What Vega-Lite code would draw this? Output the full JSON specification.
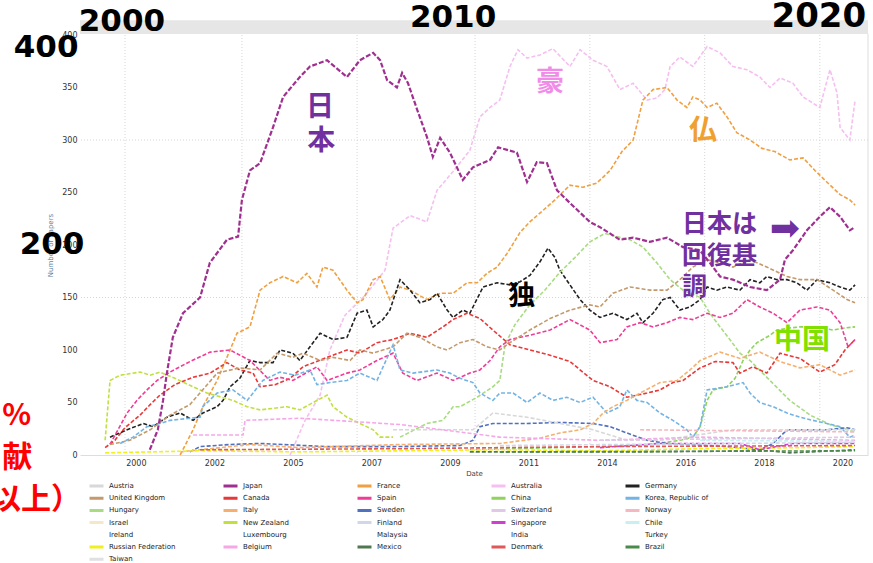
{
 "$schema": "https://vega.github.io/schema/vega-lite/v6.json",
 "width": 788, "height": 420,
 "autosize": {"type": "none"},
 "padding": {"left": 80, "top": 35, "right": 5, "bottom": 108},
 "background": "white",
 "config": {"font": "DejaVu Sans", "view": {"stroke": null}},
 "datasets": {
  "lines": [
   {"c":"Japan","year":2000.9,"value":5},{"c":"Japan","year":2001.13,"value":24},{"c":"Japan","year":2001.28,"value":52},{"c":"Japan","year":2001.39,"value":78},{"c":"Japan","year":2001.56,"value":112},{"c":"Japan","year":2001.85,"value":135},{"c":"Japan","year":2002.34,"value":150},{"c":"Japan","year":2002.62,"value":183},{"c":"Japan","year":2003.11,"value":205},{"c":"Japan","year":2003.43,"value":208},{"c":"Japan","year":2003.54,"value":243},{"c":"Japan","year":2003.77,"value":271},{"c":"Japan","year":2004.06,"value":278},{"c":"Japan","year":2004.43,"value":312},{"c":"Japan","year":2004.72,"value":341},{"c":"Japan","year":2005.2,"value":360},{"c":"Japan","year":2005.49,"value":370},{"c":"Japan","year":2005.98,"value":376},{"c":"Japan","year":2006.55,"value":360},{"c":"Japan","year":2006.92,"value":376},{"c":"Japan","year":2007.3,"value":383},{"c":"Japan","year":2007.5,"value":376},{"c":"Japan","year":2007.7,"value":357},{"c":"Japan","year":2007.98,"value":350},{"c":"Japan","year":2008.13,"value":364},{"c":"Japan","year":2008.3,"value":354},{"c":"Japan","year":2008.56,"value":329},{"c":"Japan","year":2008.84,"value":303},{"c":"Japan","year":2009.01,"value":284},{"c":"Japan","year":2009.22,"value":302},{"c":"Japan","year":2009.5,"value":288},{"c":"Japan","year":2009.87,"value":262},{"c":"Japan","year":2010.16,"value":274},{"c":"Japan","year":2010.65,"value":281},{"c":"Japan","year":2010.88,"value":293},{"c":"Japan","year":2011.42,"value":288},{"c":"Japan","year":2011.71,"value":260},{"c":"Japan","year":2011.99,"value":279},{"c":"Japan","year":2012.28,"value":278},{"c":"Japan","year":2012.57,"value":252},{"c":"Japan","year":2012.94,"value":240},{"c":"Japan","year":2013.51,"value":222},{"c":"Japan","year":2013.8,"value":217},{"c":"Japan","year":2014.37,"value":205},{"c":"Japan","year":2014.75,"value":207},{"c":"Japan","year":2015.23,"value":203},{"c":"Japan","year":2015.72,"value":207},{"c":"Japan","year":2016.18,"value":198},{"c":"Japan","year":2016.66,"value":195},{"c":"Japan","year":2016.95,"value":183},{"c":"Japan","year":2017.24,"value":170},{"c":"Japan","year":2017.61,"value":167},{"c":"Japan","year":2018.1,"value":160},{"c":"Japan","year":2018.58,"value":157},{"c":"Japan","year":2018.96,"value":167},{"c":"Japan","year":2019.1,"value":186},{"c":"Japan","year":2019.33,"value":195},{"c":"Japan","year":2019.73,"value":214},{"c":"Japan","year":2020.1,"value":227},{"c":"Japan","year":2020.39,"value":236},{"c":"Japan","year":2020.68,"value":227},{"c":"Japan","year":2020.96,"value":214},{"c":"Japan","year":2021.1,"value":217},

   {"c":"Australia","year":2004.92,"value":0},{"c":"Australia","year":2005.35,"value":33},{"c":"Australia","year":2005.78,"value":57},{"c":"Australia","year":2006.06,"value":100},{"c":"Australia","year":2006.49,"value":133},{"c":"Australia","year":2007.07,"value":152},{"c":"Australia","year":2007.64,"value":176},{"c":"Australia","year":2007.87,"value":216},{"c":"Australia","year":2008.36,"value":228},{"c":"Australia","year":2008.84,"value":222},{"c":"Australia","year":2009.13,"value":252},{"c":"Australia","year":2009.59,"value":270},{"c":"Australia","year":2010.07,"value":290},{"c":"Australia","year":2010.36,"value":322},{"c":"Australia","year":2010.65,"value":331},{"c":"Australia","year":2010.93,"value":338},{"c":"Australia","year":2011.22,"value":370},{"c":"Australia","year":2011.45,"value":386},{"c":"Australia","year":2011.71,"value":378},{"c":"Australia","year":2012.08,"value":381},{"c":"Australia","year":2012.45,"value":387},{"c":"Australia","year":2012.94,"value":370},{"c":"Australia","year":2013.23,"value":386},{"c":"Australia","year":2013.6,"value":376},{"c":"Australia","year":2014.0,"value":370},{"c":"Australia","year":2014.37,"value":348},{"c":"Australia","year":2014.75,"value":354},{"c":"Australia","year":2015.15,"value":338},{"c":"Australia","year":2015.43,"value":340},{"c":"Australia","year":2015.66,"value":348},{"c":"Australia","year":2015.81,"value":370},{"c":"Australia","year":2016.09,"value":379},{"c":"Australia","year":2016.46,"value":370},{"c":"Australia","year":2016.87,"value":389},{"c":"Australia","year":2017.24,"value":383},{"c":"Australia","year":2017.61,"value":370},{"c":"Australia","year":2018.01,"value":367},{"c":"Australia","year":2018.38,"value":360},{"c":"Australia","year":2018.67,"value":350},{"c":"Australia","year":2018.96,"value":359},{"c":"Australia","year":2019.33,"value":354},{"c":"Australia","year":2019.62,"value":341},{"c":"Australia","year":2020.1,"value":331},{"c":"Australia","year":2020.39,"value":367},{"c":"Australia","year":2020.59,"value":345},{"c":"Australia","year":2020.68,"value":312},{"c":"Australia","year":2020.96,"value":300},{"c":"Australia","year":2021.11,"value":338},

   {"c":"France","year":2001.77,"value":0},{"c":"France","year":2002.14,"value":24},{"c":"France","year":2002.42,"value":46},{"c":"France","year":2002.83,"value":71},{"c":"France","year":2003.11,"value":93},{"c":"France","year":2003.4,"value":116},{"c":"France","year":2003.77,"value":122},{"c":"France","year":2004.06,"value":157},{"c":"France","year":2004.34,"value":164},{"c":"France","year":2004.72,"value":170},{"c":"France","year":2005.12,"value":164},{"c":"France","year":2005.4,"value":173},{"c":"France","year":2005.69,"value":160},{"c":"France","year":2005.86,"value":179},{"c":"France","year":2006.15,"value":176},{"c":"France","year":2006.55,"value":157},{"c":"France","year":2006.84,"value":145},{"c":"France","year":2007.01,"value":148},{"c":"France","year":2007.3,"value":167},{"c":"France","year":2007.5,"value":170},{"c":"France","year":2007.78,"value":148},{"c":"France","year":2008.07,"value":160},{"c":"France","year":2008.36,"value":157},{"c":"France","year":2008.84,"value":148},{"c":"France","year":2009.22,"value":154},{"c":"France","year":2009.59,"value":154},{"c":"France","year":2009.99,"value":164},{"c":"France","year":2010.28,"value":164},{"c":"France","year":2010.56,"value":173},{"c":"France","year":2010.85,"value":179},{"c":"France","year":2011.14,"value":192},{"c":"France","year":2011.51,"value":212},{"c":"France","year":2011.79,"value":222},{"c":"France","year":2012.17,"value":233},{"c":"France","year":2012.51,"value":243},{"c":"France","year":2012.94,"value":257},{"c":"France","year":2013.31,"value":255},{"c":"France","year":2013.71,"value":259},{"c":"France","year":2014.09,"value":271},{"c":"France","year":2014.43,"value":289},{"c":"France","year":2014.75,"value":300},{"c":"France","year":2015.03,"value":338},{"c":"France","year":2015.32,"value":348},{"c":"France","year":2015.72,"value":350},{"c":"France","year":2016.01,"value":338},{"c":"France","year":2016.29,"value":331},{"c":"France","year":2016.46,"value":341},{"c":"France","year":2016.67,"value":338},{"c":"France","year":2016.87,"value":331},{"c":"France","year":2017.15,"value":335},{"c":"France","year":2017.44,"value":322},{"c":"France","year":2017.72,"value":307},{"c":"France","year":2018.1,"value":300},{"c":"France","year":2018.44,"value":292},{"c":"France","year":2018.81,"value":289},{"c":"France","year":2019.24,"value":281},{"c":"France","year":2019.62,"value":283},{"c":"France","year":2019.96,"value":271},{"c":"France","year":2020.3,"value":260},{"c":"France","year":2020.68,"value":248},{"c":"France","year":2020.96,"value":243},{"c":"France","year":2021.11,"value":238},

   {"c":"Germany","year":1999.76,"value":17},{"c":"Germany","year":2000.25,"value":24},{"c":"Germany","year":2000.71,"value":30},{"c":"Germany","year":2000.99,"value":27},{"c":"Germany","year":2001.39,"value":36},{"c":"Germany","year":2001.77,"value":40},{"c":"Germany","year":2002.14,"value":33},{"c":"Germany","year":2002.42,"value":40},{"c":"Germany","year":2002.83,"value":46},{"c":"Germany","year":2003.0,"value":52},{"c":"Germany","year":2003.2,"value":65},{"c":"Germany","year":2003.48,"value":73},{"c":"Germany","year":2003.77,"value":90},{"c":"Germany","year":2004.06,"value":88},{"c":"Germany","year":2004.43,"value":88},{"c":"Germany","year":2004.63,"value":100},{"c":"Germany","year":2005.0,"value":97},{"c":"Germany","year":2005.2,"value":90},{"c":"Germany","year":2005.49,"value":103},{"c":"Germany","year":2005.78,"value":116},{"c":"Germany","year":2006.15,"value":110},{"c":"Germany","year":2006.55,"value":112},{"c":"Germany","year":2006.84,"value":135},{"c":"Germany","year":2007.12,"value":138},{"c":"Germany","year":2007.3,"value":122},{"c":"Germany","year":2007.58,"value":129},{"c":"Germany","year":2007.78,"value":138},{"c":"Germany","year":2008.07,"value":167},{"c":"Germany","year":2008.36,"value":157},{"c":"Germany","year":2008.64,"value":145},{"c":"Germany","year":2008.93,"value":148},{"c":"Germany","year":2009.13,"value":154},{"c":"Germany","year":2009.42,"value":138},{"c":"Germany","year":2009.59,"value":131},{"c":"Germany","year":2009.87,"value":138},{"c":"Germany","year":2010.07,"value":135},{"c":"Germany","year":2010.45,"value":160},{"c":"Germany","year":2010.85,"value":164},{"c":"Germany","year":2011.22,"value":162},{"c":"Germany","year":2011.51,"value":165},{"c":"Germany","year":2011.79,"value":171},{"c":"Germany","year":2012.08,"value":184},{"c":"Germany","year":2012.31,"value":197},{"c":"Germany","year":2012.51,"value":188},{"c":"Germany","year":2012.65,"value":176},{"c":"Germany","year":2012.94,"value":162},{"c":"Germany","year":2013.23,"value":148},{"c":"Germany","year":2013.51,"value":138},{"c":"Germany","year":2013.8,"value":131},{"c":"Germany","year":2014.17,"value":135},{"c":"Germany","year":2014.57,"value":129},{"c":"Germany","year":2014.86,"value":135},{"c":"Germany","year":2015.03,"value":126},{"c":"Germany","year":2015.32,"value":135},{"c":"Germany","year":2015.6,"value":148},{"c":"Germany","year":2015.81,"value":150},{"c":"Germany","year":2016.09,"value":138},{"c":"Germany","year":2016.38,"value":141},{"c":"Germany","year":2016.67,"value":148},{"c":"Germany","year":2016.87,"value":160},{"c":"Germany","year":2017.15,"value":157},{"c":"Germany","year":2017.44,"value":160},{"c":"Germany","year":2017.81,"value":157},{"c":"Germany","year":2018.1,"value":167},{"c":"Germany","year":2018.38,"value":164},{"c":"Germany","year":2018.58,"value":170},{"c":"Germany","year":2018.87,"value":167},{"c":"Germany","year":2019.16,"value":167},{"c":"Germany","year":2019.44,"value":164},{"c":"Germany","year":2019.73,"value":157},{"c":"Germany","year":2020.02,"value":167},{"c":"Germany","year":2020.39,"value":164},{"c":"Germany","year":2020.68,"value":160},{"c":"Germany","year":2020.96,"value":157},{"c":"Germany","year":2021.11,"value":162},

   {"c":"China","year":2010.07,"value":5},{"c":"China","year":2013.8,"value":8},{"c":"China","year":2015.23,"value":10},{"c":"China","year":2016.09,"value":14},{"c":"China","year":2016.46,"value":17},{"c":"China","year":2016.67,"value":27},{"c":"China","year":2016.87,"value":52},{"c":"China","year":2017.04,"value":62},{"c":"China","year":2017.44,"value":65},{"c":"China","year":2017.67,"value":73},{"c":"China","year":2017.9,"value":90},{"c":"China","year":2018.1,"value":100},{"c":"China","year":2018.3,"value":107},{"c":"China","year":2018.67,"value":114},{"c":"China","year":2018.87,"value":119},{"c":"China","year":2019.24,"value":121},{"c":"China","year":2019.53,"value":122},{"c":"China","year":2020.02,"value":122},{"c":"China","year":2020.48,"value":119},{"c":"China","year":2020.82,"value":121},{"c":"China","year":2021.11,"value":122},

   {"c":"Hungary","year":2008.07,"value":17},{"c":"Hungary","year":2008.84,"value":30},{"c":"Hungary","year":2009.3,"value":33},{"c":"Hungary","year":2009.59,"value":46},{"c":"Hungary","year":2009.79,"value":46},{"c":"Hungary","year":2010.28,"value":55},{"c":"Hungary","year":2010.73,"value":65},{"c":"Hungary","year":2010.93,"value":71},{"c":"Hungary","year":2011.08,"value":105},{"c":"Hungary","year":2011.36,"value":124},{"c":"Hungary","year":2011.79,"value":143},{"c":"Hungary","year":2012.22,"value":157},{"c":"Hungary","year":2012.65,"value":174},{"c":"Hungary","year":2013.08,"value":188},{"c":"Hungary","year":2013.51,"value":203},{"c":"Hungary","year":2013.94,"value":211},{"c":"Hungary","year":2014.29,"value":208},{"c":"Hungary","year":2014.66,"value":205},{"c":"Hungary","year":2015.03,"value":198},{"c":"Hungary","year":2015.43,"value":183},{"c":"Hungary","year":2015.81,"value":167},{"c":"Hungary","year":2016.18,"value":157},{"c":"Hungary","year":2016.67,"value":150},{"c":"Hungary","year":2016.95,"value":135},{"c":"Hungary","year":2017.24,"value":122},{"c":"Hungary","year":2017.52,"value":110},{"c":"Hungary","year":2017.81,"value":97},{"c":"Hungary","year":2018.1,"value":90},{"c":"Hungary","year":2018.67,"value":71},{"c":"Hungary","year":2019.24,"value":52},{"c":"Hungary","year":2019.82,"value":38},{"c":"Hungary","year":2020.39,"value":29},{"c":"Hungary","year":2021.11,"value":22},

   {"c":"New Zealand","year":1999.62,"value":14},{"c":"New Zealand","year":1999.76,"value":71},{"c":"New Zealand","year":2000.05,"value":76},{"c":"New Zealand","year":2000.62,"value":79},{"c":"New Zealand","year":2000.91,"value":76},{"c":"New Zealand","year":2001.19,"value":79},{"c":"New Zealand","year":2001.62,"value":73},{"c":"New Zealand","year":2002.14,"value":65},{"c":"New Zealand","year":2002.54,"value":59},{"c":"New Zealand","year":2003.28,"value":52},{"c":"New Zealand","year":2003.69,"value":46},{"c":"New Zealand","year":2004.06,"value":43},{"c":"New Zealand","year":2004.83,"value":46},{"c":"New Zealand","year":2005.2,"value":43},{"c":"New Zealand","year":2005.58,"value":50},{"c":"New Zealand","year":2005.98,"value":57},{"c":"New Zealand","year":2006.15,"value":46},{"c":"New Zealand","year":2006.55,"value":36},{"c":"New Zealand","year":2006.92,"value":30},{"c":"New Zealand","year":2007.3,"value":24},{"c":"New Zealand","year":2007.5,"value":17},{"c":"New Zealand","year":2007.87,"value":17},

   {"c":"Canada","year":1999.62,"value":7},{"c":"Canada","year":1999.9,"value":14},{"c":"Canada","year":2000.19,"value":26},{"c":"Canada","year":2000.62,"value":38},{"c":"Canada","year":2000.91,"value":48},{"c":"Canada","year":2001.19,"value":57},{"c":"Canada","year":2001.62,"value":67},{"c":"Canada","year":2002.14,"value":74},{"c":"Canada","year":2002.63,"value":78},{"c":"Canada","year":2003.11,"value":88},{"c":"Canada","year":2003.48,"value":81},{"c":"Canada","year":2003.86,"value":78},{"c":"Canada","year":2004.06,"value":65},{"c":"Canada","year":2004.49,"value":67},{"c":"Canada","year":2004.92,"value":73},{"c":"Canada","year":2005.29,"value":84},{"c":"Canada","year":2005.98,"value":93},{"c":"Canada","year":2006.55,"value":100},{"c":"Canada","year":2006.92,"value":97},{"c":"Canada","year":2007.41,"value":107},{"c":"Canada","year":2007.87,"value":110},{"c":"Canada","year":2008.36,"value":116},{"c":"Canada","year":2008.84,"value":112},{"c":"Canada","year":2009.3,"value":122},{"c":"Canada","year":2009.59,"value":129},{"c":"Canada","year":2009.99,"value":135},{"c":"Canada","year":2010.36,"value":130},{"c":"Canada","year":2010.73,"value":119},{"c":"Canada","year":2011.22,"value":105},{"c":"Canada","year":2011.79,"value":100},{"c":"Canada","year":2012.37,"value":95},{"c":"Canada","year":2012.94,"value":89},{"c":"Canada","year":2013.6,"value":71},{"c":"Canada","year":2014.09,"value":65},{"c":"Canada","year":2014.57,"value":55},{"c":"Canada","year":2015.15,"value":59},{"c":"Canada","year":2015.52,"value":62},{"c":"Canada","year":2015.89,"value":69},{"c":"Canada","year":2016.18,"value":71},{"c":"Canada","year":2016.67,"value":83},{"c":"Canada","year":2017.1,"value":89},{"c":"Canada","year":2017.61,"value":88},{"c":"Canada","year":2017.81,"value":78},{"c":"Canada","year":2018.18,"value":84},{"c":"Canada","year":2018.58,"value":78},{"c":"Canada","year":2018.96,"value":97},{"c":"Canada","year":2019.53,"value":92},{"c":"Canada","year":2020.1,"value":79},{"c":"Canada","year":2020.53,"value":86},{"c":"Canada","year":2020.82,"value":100},{"c":"Canada","year":2021.11,"value":110},

   {"c":"Spain","year":1999.76,"value":10},{"c":"Spain","year":2000.25,"value":40},{"c":"Spain","year":2000.53,"value":52},{"c":"Spain","year":2000.82,"value":62},{"c":"Spain","year":2001.11,"value":71},{"c":"Spain","year":2001.48,"value":79},{"c":"Spain","year":2002.05,"value":89},{"c":"Spain","year":2002.63,"value":98},{"c":"Spain","year":2003.2,"value":100},{"c":"Spain","year":2003.77,"value":90},{"c":"Spain","year":2004.34,"value":71},{"c":"Spain","year":2004.63,"value":74},{"c":"Spain","year":2005.0,"value":71},{"c":"Spain","year":2005.69,"value":84},{"c":"Spain","year":2005.98,"value":71},{"c":"Spain","year":2006.55,"value":78},{"c":"Spain","year":2006.92,"value":81},{"c":"Spain","year":2007.41,"value":90},{"c":"Spain","year":2007.87,"value":97},{"c":"Spain","year":2008.15,"value":78},{"c":"Spain","year":2008.56,"value":71},{"c":"Spain","year":2009.13,"value":78},{"c":"Spain","year":2009.59,"value":71},{"c":"Spain","year":2010.07,"value":78},{"c":"Spain","year":2010.36,"value":81},{"c":"Spain","year":2010.65,"value":90},{"c":"Spain","year":2010.93,"value":103},{"c":"Spain","year":2011.22,"value":110},{"c":"Spain","year":2011.79,"value":114},{"c":"Spain","year":2012.37,"value":119},{"c":"Spain","year":2012.94,"value":129},{"c":"Spain","year":2013.51,"value":119},{"c":"Spain","year":2013.8,"value":107},{"c":"Spain","year":2014.29,"value":110},{"c":"Spain","year":2014.57,"value":122},{"c":"Spain","year":2014.95,"value":126},{"c":"Spain","year":2015.32,"value":122},{"c":"Spain","year":2015.72,"value":126},{"c":"Spain","year":2016.09,"value":131},{"c":"Spain","year":2016.46,"value":129},{"c":"Spain","year":2016.87,"value":135},{"c":"Spain","year":2017.24,"value":131},{"c":"Spain","year":2017.61,"value":135},{"c":"Spain","year":2018.01,"value":148},{"c":"Spain","year":2018.38,"value":141},{"c":"Spain","year":2018.76,"value":135},{"c":"Spain","year":2019.16,"value":126},{"c":"Spain","year":2019.53,"value":138},{"c":"Spain","year":2020.02,"value":141},{"c":"Spain","year":2020.39,"value":138},{"c":"Spain","year":2020.68,"value":126},{"c":"Spain","year":2020.91,"value":103},{"c":"Spain","year":2021.11,"value":110},

   {"c":"United Kingdom","year":1999.76,"value":10},{"c":"United Kingdom","year":2000.33,"value":14},{"c":"United Kingdom","year":2000.91,"value":24},{"c":"United Kingdom","year":2001.48,"value":38},{"c":"United Kingdom","year":2002.05,"value":48},{"c":"United Kingdom","year":2002.83,"value":78},{"c":"United Kingdom","year":2003.48,"value":83},{"c":"United Kingdom","year":2004.06,"value":81},{"c":"United Kingdom","year":2004.55,"value":97},{"c":"United Kingdom","year":2005.0,"value":93},{"c":"United Kingdom","year":2005.29,"value":97},{"c":"United Kingdom","year":2005.78,"value":90},{"c":"United Kingdom","year":2006.15,"value":93},{"c":"United Kingdom","year":2006.64,"value":90},{"c":"United Kingdom","year":2006.92,"value":100},{"c":"United Kingdom","year":2007.3,"value":97},{"c":"United Kingdom","year":2007.87,"value":103},{"c":"United Kingdom","year":2008.27,"value":116},{"c":"United Kingdom","year":2008.64,"value":112},{"c":"United Kingdom","year":2009.13,"value":103},{"c":"United Kingdom","year":2009.42,"value":100},{"c":"United Kingdom","year":2009.79,"value":107},{"c":"United Kingdom","year":2010.16,"value":110},{"c":"United Kingdom","year":2010.56,"value":103},{"c":"United Kingdom","year":2010.93,"value":100},{"c":"United Kingdom","year":2011.22,"value":107},{"c":"United Kingdom","year":2011.79,"value":119},{"c":"United Kingdom","year":2012.37,"value":130},{"c":"United Kingdom","year":2012.94,"value":138},{"c":"United Kingdom","year":2013.51,"value":143},{"c":"United Kingdom","year":2013.8,"value":141},{"c":"United Kingdom","year":2014.17,"value":154},{"c":"United Kingdom","year":2014.66,"value":160},{"c":"United Kingdom","year":2015.23,"value":157},{"c":"United Kingdom","year":2015.72,"value":157},{"c":"United Kingdom","year":2016.09,"value":167},{"c":"United Kingdom","year":2016.46,"value":179},{"c":"United Kingdom","year":2016.87,"value":186},{"c":"United Kingdom","year":2017.24,"value":183},{"c":"United Kingdom","year":2017.61,"value":179},{"c":"United Kingdom","year":2018.1,"value":186},{"c":"United Kingdom","year":2018.58,"value":179},{"c":"United Kingdom","year":2019.16,"value":170},{"c":"United Kingdom","year":2019.53,"value":167},{"c":"United Kingdom","year":2020.02,"value":167},{"c":"United Kingdom","year":2020.48,"value":157},{"c":"United Kingdom","year":2020.88,"value":148},{"c":"United Kingdom","year":2021.11,"value":145},

   {"c":"Korea, Republic of","year":2000.05,"value":11},{"c":"Korea, Republic of","year":2000.42,"value":17},{"c":"Korea, Republic of","year":2000.82,"value":27},{"c":"Korea, Republic of","year":2001.19,"value":30},{"c":"Korea, Republic of","year":2001.48,"value":33},{"c":"Korea, Republic of","year":2002.34,"value":36},{"c":"Korea, Republic of","year":2002.42,"value":46},{"c":"Korea, Republic of","year":2002.83,"value":59},{"c":"Korea, Republic of","year":2003.28,"value":62},{"c":"Korea, Republic of","year":2003.69,"value":52},{"c":"Korea, Republic of","year":2003.86,"value":59},{"c":"Korea, Republic of","year":2004.14,"value":71},{"c":"Korea, Republic of","year":2004.63,"value":79},{"c":"Korea, Republic of","year":2005.06,"value":76},{"c":"Korea, Republic of","year":2005.49,"value":81},{"c":"Korea, Republic of","year":2005.69,"value":67},{"c":"Korea, Republic of","year":2006.06,"value":69},{"c":"Korea, Republic of","year":2006.55,"value":71},{"c":"Korea, Republic of","year":2006.92,"value":78},{"c":"Korea, Republic of","year":2007.41,"value":71},{"c":"Korea, Republic of","year":2007.87,"value":105},{"c":"Korea, Republic of","year":2008.07,"value":81},{"c":"Korea, Republic of","year":2008.44,"value":78},{"c":"Korea, Republic of","year":2009.13,"value":81},{"c":"Korea, Republic of","year":2009.5,"value":78},{"c":"Korea, Republic of","year":2009.79,"value":73},{"c":"Korea, Republic of","year":2010.16,"value":69},{"c":"Korea, Republic of","year":2010.36,"value":59},{"c":"Korea, Republic of","year":2010.73,"value":52},{"c":"Korea, Republic of","year":2010.93,"value":59},{"c":"Korea, Republic of","year":2011.31,"value":59},{"c":"Korea, Republic of","year":2011.71,"value":50},{"c":"Korea, Republic of","year":2012.08,"value":59},{"c":"Korea, Republic of","year":2012.45,"value":52},{"c":"Korea, Republic of","year":2012.85,"value":55},{"c":"Korea, Republic of","year":2013.23,"value":50},{"c":"Korea, Republic of","year":2013.6,"value":55},{"c":"Korea, Republic of","year":2014.0,"value":40},{"c":"Korea, Republic of","year":2014.37,"value":46},{"c":"Korea, Republic of","year":2014.57,"value":62},{"c":"Korea, Republic of","year":2014.86,"value":52},{"c":"Korea, Republic of","year":2015.15,"value":50},{"c":"Korea, Republic of","year":2015.52,"value":40},{"c":"Korea, Republic of","year":2015.89,"value":33},{"c":"Korea, Republic of","year":2016.29,"value":24},{"c":"Korea, Republic of","year":2016.46,"value":17},{"c":"Korea, Republic of","year":2016.67,"value":27},{"c":"Korea, Republic of","year":2016.87,"value":62},{"c":"Korea, Republic of","year":2017.44,"value":65},{"c":"Korea, Republic of","year":2017.9,"value":69},{"c":"Korea, Republic of","year":2018.1,"value":59},{"c":"Korea, Republic of","year":2018.38,"value":50},{"c":"Korea, Republic of","year":2018.76,"value":46},{"c":"Korea, Republic of","year":2019.16,"value":40},{"c":"Korea, Republic of","year":2019.53,"value":36},{"c":"Korea, Republic of","year":2019.9,"value":33},{"c":"Korea, Republic of","year":2020.3,"value":30},{"c":"Korea, Republic of","year":2020.68,"value":27},{"c":"Korea, Republic of","year":2020.96,"value":17},{"c":"Korea, Republic of","year":2021.11,"value":19},

   {"c":"Sweden","year":2002.05,"value":3},{"c":"Sweden","year":2002.34,"value":8},{"c":"Sweden","year":2003.2,"value":10},{"c":"Sweden","year":2004.06,"value":11},{"c":"Sweden","year":2005.98,"value":8},{"c":"Sweden","year":2007.87,"value":8},{"c":"Sweden","year":2009.79,"value":9},{"c":"Sweden","year":2010.16,"value":14},{"c":"Sweden","year":2010.36,"value":27},{"c":"Sweden","year":2010.73,"value":30},{"c":"Sweden","year":2011.71,"value":30},{"c":"Sweden","year":2012.65,"value":31},{"c":"Sweden","year":2013.6,"value":30},{"c":"Sweden","year":2014.09,"value":27},{"c":"Sweden","year":2014.57,"value":21},{"c":"Sweden","year":2015.15,"value":14},{"c":"Sweden","year":2015.72,"value":11},{"c":"Sweden","year":2017.44,"value":8},{"c":"Sweden","year":2018.38,"value":5},{"c":"Sweden","year":2018.76,"value":11},{"c":"Sweden","year":2019.16,"value":24},{"c":"Sweden","year":2019.53,"value":24},{"c":"Sweden","year":2020.3,"value":24},{"c":"Sweden","year":2020.88,"value":26},{"c":"Sweden","year":2021.11,"value":24},

   {"c":"Italy","year":2001.77,"value":3},{"c":"Italy","year":2003.77,"value":10},{"c":"Italy","year":2005.2,"value":7},{"c":"Italy","year":2008.07,"value":10},{"c":"Italy","year":2010.93,"value":11},{"c":"Italy","year":2012.08,"value":16},{"c":"Italy","year":2012.65,"value":21},{"c":"Italy","year":2013.23,"value":24},{"c":"Italy","year":2013.6,"value":30},{"c":"Italy","year":2013.89,"value":40},{"c":"Italy","year":2014.17,"value":46},{"c":"Italy","year":2014.57,"value":52},{"c":"Italy","year":2014.95,"value":59},{"c":"Italy","year":2015.52,"value":69},{"c":"Italy","year":2016.01,"value":71},{"c":"Italy","year":2016.38,"value":81},{"c":"Italy","year":2016.67,"value":90},{"c":"Italy","year":2017.24,"value":98},{"c":"Italy","year":2017.81,"value":92},{"c":"Italy","year":2018.38,"value":98},{"c":"Italy","year":2018.96,"value":89},{"c":"Italy","year":2019.53,"value":83},{"c":"Italy","year":2020.1,"value":86},{"c":"Italy","year":2020.68,"value":76},{"c":"Italy","year":2021.11,"value":81},

   {"c":"Russian Federation","year":1999.62,"value":2},{"c":"Russian Federation","year":2002.34,"value":4},{"c":"Russian Federation","year":2005.2,"value":3},{"c":"Russian Federation","year":2008.07,"value":4},{"c":"Russian Federation","year":2010.93,"value":5},{"c":"Russian Federation","year":2013.8,"value":4},{"c":"Russian Federation","year":2016.67,"value":6},{"c":"Russian Federation","year":2019.53,"value":7},{"c":"Russian Federation","year":2021.11,"value":8},

   {"c":"Mexico","year":2010.07,"value":3},{"c":"Mexico","year":2012.65,"value":3},{"c":"Mexico","year":2015.23,"value":3},{"c":"Mexico","year":2018.67,"value":4},{"c":"Mexico","year":2019.24,"value":2},{"c":"Mexico","year":2021.11,"value":5},

   {"c":"Singapore","year":2013.8,"value":7},{"c":"Singapore","year":2015.52,"value":11},{"c":"Singapore","year":2016.67,"value":11},{"c":"Singapore","year":2017.81,"value":11},{"c":"Singapore","year":2018.38,"value":5},{"c":"Singapore","year":2019.33,"value":11},{"c":"Singapore","year":2021.11,"value":11},

   {"c":"Austria","year":2007.87,"value":24},{"c":"Austria","year":2010.16,"value":24},{"c":"Austria","year":2010.73,"value":40},{"c":"Austria","year":2011.71,"value":36},{"c":"Austria","year":2012.65,"value":30},{"c":"Austria","year":2013.6,"value":24},{"c":"Austria","year":2014.57,"value":14},{"c":"Austria","year":2015.52,"value":14},{"c":"Austria","year":2017.61,"value":24},{"c":"Austria","year":2018.38,"value":24},{"c":"Austria","year":2019.33,"value":24},{"c":"Austria","year":2021.11,"value":24},

   {"c":"Belgium","year":2002.14,"value":19},{"c":"Belgium","year":2003.57,"value":19},{"c":"Belgium","year":2003.63,"value":33},{"c":"Belgium","year":2005.2,"value":35},{"c":"Belgium","year":2008.07,"value":29},{"c":"Belgium","year":2010.93,"value":17},{"c":"Belgium","year":2013.8,"value":14},{"c":"Belgium","year":2016.67,"value":17},{"c":"Belgium","year":2021.11,"value":14},

   {"c":"Denmark","year":2002.34,"value":5},{"c":"Denmark","year":2008.07,"value":6},{"c":"Denmark","year":2013.8,"value":8},{"c":"Denmark","year":2021.11,"value":9},
   {"c":"Brazil","year":2010.93,"value":3},{"c":"Brazil","year":2021.11,"value":4},
   {"c":"Norway","year":2014.95,"value":24},{"c":"Norway","year":2021.11,"value":22},
   {"c":"Switzerland","year":2013.8,"value":14},{"c":"Switzerland","year":2021.11,"value":17},
   {"c":"Finland","year":2010.93,"value":9},{"c":"Finland","year":2021.11,"value":12},
   {"c":"Chile","year":2016.67,"value":14},{"c":"Chile","year":2021.11,"value":13}
  ]
 },
 "layer": [
  {
   "data": {"values": [{"year": 2000.19}, {"year": 2003.54}, {"year": 2006.84}, {"year": 2010.22}, {"year": 2013.51}, {"year": 2016.8}, {"year": 2020.1}]},
   "mark": {"type": "rule", "color": "#d6d6d6", "strokeDash": [1, 2], "strokeWidth": 1},
   "encoding": {"x": {"field": "year", "type": "quantitative", "title": "Date", "scale": {"domain": [1998.9, 2021.48], "nice": false, "zero": false}}}
  },
  {
   "data": {"values": [{"value": 150}, {"value": 300}]},
   "mark": {"type": "rule", "color": "#d6d6d6", "strokeDash": [1, 2], "strokeWidth": 1},
   "encoding": {"y": {"field": "value", "type": "quantitative", "title": "Number of papers", "scale": {"domain": [0, 400], "nice": false}}}
  },
  {
   "data": {"values": [{"year": 1998.9, "year2": 2021.48, "value": 401, "value2": 414}]},
   "mark": {"type": "rect", "color": "#e6e6e6"},
   "encoding": {
    "x": {"field": "year", "type": "quantitative", "title": "Date", "scale": {"domain": [1998.9, 2021.48], "nice": false, "zero": false}},
    "x2": {"field": "year2"},
    "y": {"field": "value", "type": "quantitative", "title": "Number of papers", "scale": {"domain": [0, 400], "nice": false}},
    "y2": {"field": "value2"}
   }
  },
  {
   "data": {"values": [{"year": 2021.48, "value": 0, "value2": 401}]},
   "mark": {"type": "rule", "color": "#dddddd", "strokeWidth": 1},
   "encoding": {
    "x": {"field": "year", "type": "quantitative", "title": "Date", "scale": {"domain": [1998.9, 2021.48], "nice": false, "zero": false}},
    "y": {"field": "value", "type": "quantitative", "title": "Number of papers", "scale": {"domain": [0, 400], "nice": false}},
    "y2": {"field": "value2"}
   }
  },
  {
   "data": {"name": "lines"},
   "transform": [{"filter": "datum.c !== 'Japan'"}],
   "mark": {"type": "line", "strokeWidth": 1.6, "strokeDash": [4, 2]},
   "encoding": {
    "x": {"field": "year", "type": "quantitative", "title": "Date",
      "scale": {"domain": [1998.9, 2021.48], "nice": false, "zero": false},
      "axis": {"values": [2000.5, 2002.75, 2005, 2007.25, 2009.5, 2011.75, 2014, 2016.25, 2018.5, 2020.75], "labelExpr": "'' + floor(datum.value)", "grid": false, "ticks": false, "domainColor": "#dddddd", "labelFontSize": 8, "labelColor": "#333333", "labelPadding": 4, "titleFontSize": 7, "titleFontWeight": "normal", "titleColor": "#444444", "titlePadding": 2}},
    "y": {"field": "value", "type": "quantitative", "title": "Number of papers",
      "scale": {"domain": [0, 400], "nice": false},
      "axis": {"values": [0, 50, 100, 150, 200, 250, 300, 350, 400], "grid": false, "ticks": false, "domain": false, "labelFontSize": 8, "labelColor": "#333333", "labelPadding": 3, "titleFontSize": 7, "titleFontWeight": "normal", "titleColor": "#6080a0", "titlePadding": 8}},
    "color": {"field": "c", "type": "nominal",
      "scale": {
        "domain": ["Austria","Japan","France","Australia","Germany","United Kingdom","Canada","Spain","China","Korea, Republic of","Hungary","Italy","Sweden","Switzerland","Norway","Israel","New Zealand","Finland","Singapore","Chile","Ireland","Luxembourg","Malaysia","India","Turkey","Russian Federation","Belgium","Mexico","Denmark","Brazil","Taiwan"],
        "range": ["#d8d8d8","#a03090","#f0a040","#f5bff0","#222222","#c49a6c","#e83838","#f03c96","#8fd35c","#74b4e4","#a8dc80","#f5b070","#5070c0","#e0c8e8","#f5b8c0","#f5e8c8","#c0e040","#d0d8e8","#d040d0","#c8f0f0","#ffffff","#ffffff","#ffffff","#ffffff","#ffffff","#f0f020","#f5a8e8","#507850","#e05858","#4a8a4a","#e0e0e0"]
      },
      "legend": {"orient": "none", "direction": "horizontal", "legendX": 8, "legendY": 445, "columns": 5, "symbolLimit": 40, "title": null, "symbolType": "stroke", "symbolSize": 196, "symbolStrokeWidth": 3, "symbolDash": [1, 0], "clipHeight": 12, "rowPadding": 0.2, "columnPadding": 46, "gridAlign": "all", "labelFontSize": 7, "labelColor": "#222222", "labelLimit": 72, "labelOffset": 4}}
   }
  },
  {
   "data": {"name": "lines"},
   "transform": [{"filter": "datum.c === 'Japan'"}],
   "mark": {"type": "line", "strokeWidth": 2.2, "strokeDash": [5, 2]},
   "encoding": {
    "x": {"field": "year", "type": "quantitative", "title": "Date", "scale": {"domain": [1998.9, 2021.48], "nice": false, "zero": false}},
    "y": {"field": "value", "type": "quantitative", "title": "Number of papers", "scale": {"domain": [0, 400], "nice": false}},
    "color": {"field": "c", "type": "nominal"}
   }
  },
  {
   "data": {"values": [{"t": "400", "year": 1997.93, "value": 387.6}, {"t": "2000", "year": 2000.1, "value": 412.4}, {"t": "2010", "year": 2009.59, "value": 416.2}, {"t": "200", "year": 1998.1, "value": 200}]},
   "mark": {"type": "text", "font": "DejaVu Sans", "fontWeight": "bold", "fontSize": 31, "color": "#000000", "baseline": "middle", "align": "center"},
   "encoding": {
    "x": {"field": "year", "type": "quantitative", "title": "Date", "scale": {"domain": [1998.9, 2021.48], "nice": false, "zero": false}},
    "y": {"field": "value", "type": "quantitative", "title": "Number of papers", "scale": {"domain": [0, 400], "nice": false}},
    "text": {"field": "t"}
   }
  },
  {
   "data": {"values": [{"t": "2020", "year": 2020.07, "value": 417.5}]},
   "mark": {"type": "text", "font": "DejaVu Sans", "fontWeight": "bold", "fontSize": 34, "color": "#000000", "baseline": "middle", "align": "center"},
   "encoding": {
    "x": {"field": "year", "type": "quantitative", "title": "Date", "scale": {"domain": [1998.9, 2021.48], "nice": false, "zero": false}},
    "y": {"field": "value", "type": "quantitative", "title": "Number of papers", "scale": {"domain": [0, 400], "nice": false}},
    "text": {"field": "t"}
   }
  },
  {
   "data": {"values": [{"t": "日", "year": 2005.78, "value": 330.5}, {"t": "本", "year": 2005.81, "value": 298.1}]},
   "mark": {"type": "text", "font": "Noto Sans CJK JP", "fontWeight": "bold", "fontSize": 28, "color": "#7030a0", "baseline": "middle", "align": "center"},
   "encoding": {
    "x": {"field": "year", "type": "quantitative", "title": "Date", "scale": {"domain": [1998.9, 2021.48], "nice": false, "zero": false}},
    "y": {"field": "value", "type": "quantitative", "title": "Number of papers", "scale": {"domain": [0, 400], "nice": false}},
    "text": {"field": "t"}
   }
  },
  {
   "data": {"values": [{"t": "日本は", "year": 2016.15, "value": 220}, {"t": "回復基", "year": 2016.15, "value": 189.5}, {"t": "調", "year": 2016.15, "value": 160}]},
   "mark": {"type": "text", "font": "Noto Sans CJK JP", "fontWeight": "bold", "fontSize": 25, "color": "#7030a0", "baseline": "middle", "align": "left"},
   "encoding": {
    "x": {"field": "year", "type": "quantitative", "title": "Date", "scale": {"domain": [1998.9, 2021.48], "nice": false, "zero": false}},
    "y": {"field": "value", "type": "quantitative", "title": "Number of papers", "scale": {"domain": [0, 400], "nice": false}},
    "text": {"field": "t"}
   }
  },
  {
   "data": {"values": [{"t": "➡", "year": 2019.1, "value": 215.2}]},
   "mark": {"type": "text", "font": "DejaVu Sans", "fontSize": 36, "color": "#7030a0", "baseline": "middle", "align": "center"},
   "encoding": {
    "x": {"field": "year", "type": "quantitative", "title": "Date", "scale": {"domain": [1998.9, 2021.48], "nice": false, "zero": false}},
    "y": {"field": "value", "type": "quantitative", "title": "Number of papers", "scale": {"domain": [0, 400], "nice": false}},
    "text": {"field": "t"}
   }
  },
  {
   "data": {"values": [{"t": "豪", "year": 2012.37, "value": 354.3}]},
   "mark": {"type": "text", "font": "Noto Sans CJK JP", "fontWeight": "bold", "fontSize": 28, "color": "#f08ce8", "baseline": "middle", "align": "center"},
   "encoding": {
    "x": {"field": "year", "type": "quantitative", "title": "Date", "scale": {"domain": [1998.9, 2021.48], "nice": false, "zero": false}},
    "y": {"field": "value", "type": "quantitative", "title": "Number of papers", "scale": {"domain": [0, 400], "nice": false}},
    "text": {"field": "t"}
   }
  },
  {
   "data": {"values": [{"t": "仏", "year": 2016.75, "value": 307.6}]},
   "mark": {"type": "text", "font": "Noto Sans CJK JP", "fontWeight": "bold", "fontSize": 28, "color": "#f0a030", "baseline": "middle", "align": "center"},
   "encoding": {
    "x": {"field": "year", "type": "quantitative", "title": "Date", "scale": {"domain": [1998.9, 2021.48], "nice": false, "zero": false}},
    "y": {"field": "value", "type": "quantitative", "title": "Number of papers", "scale": {"domain": [0, 400], "nice": false}},
    "text": {"field": "t"}
   }
  },
  {
   "data": {"values": [{"t": "独", "year": 2011.56, "value": 150.5}]},
   "mark": {"type": "text", "font": "Noto Sans CJK JP", "fontWeight": "bold", "fontSize": 27, "color": "#000000", "baseline": "middle", "align": "center"},
   "encoding": {
    "x": {"field": "year", "type": "quantitative", "title": "Date", "scale": {"domain": [1998.9, 2021.48], "nice": false, "zero": false}},
    "y": {"field": "value", "type": "quantitative", "title": "Number of papers", "scale": {"domain": [0, 400], "nice": false}},
    "text": {"field": "t"}
   }
  },
  {
   "data": {"values": [{"t": "中国", "year": 2019.59, "value": 108.6}]},
   "mark": {"type": "text", "font": "Noto Sans CJK JP", "fontWeight": "bold", "fontSize": 28, "color": "#80e000", "baseline": "middle", "align": "center"},
   "encoding": {
    "x": {"field": "year", "type": "quantitative", "title": "Date", "scale": {"domain": [1998.9, 2021.48], "nice": false, "zero": false}},
    "y": {"field": "value", "type": "quantitative", "title": "Number of papers", "scale": {"domain": [0, 400], "nice": false}},
    "text": {"field": "t"}
   }
  },
  {
   "data": {"values": [{"t": "%", "year": 1997.5, "value": 37.1}, {"t": "献", "year": 1997.53, "value": -2.9}, {"t": "以上）", "year": 1998.93, "value": -42.9}]},
   "mark": {"type": "text", "font": "Noto Sans CJK JP", "fontWeight": "bold", "fontSize": 30, "color": "#ff0000", "baseline": "middle", "align": "right"},
   "encoding": {
    "x": {"field": "year", "type": "quantitative", "title": "Date", "scale": {"domain": [1998.9, 2021.48], "nice": false, "zero": false}},
    "y": {"field": "value", "type": "quantitative", "title": "Number of papers", "scale": {"domain": [0, 400], "nice": false}},
    "text": {"field": "t"}
   }
  }
 ]
}
